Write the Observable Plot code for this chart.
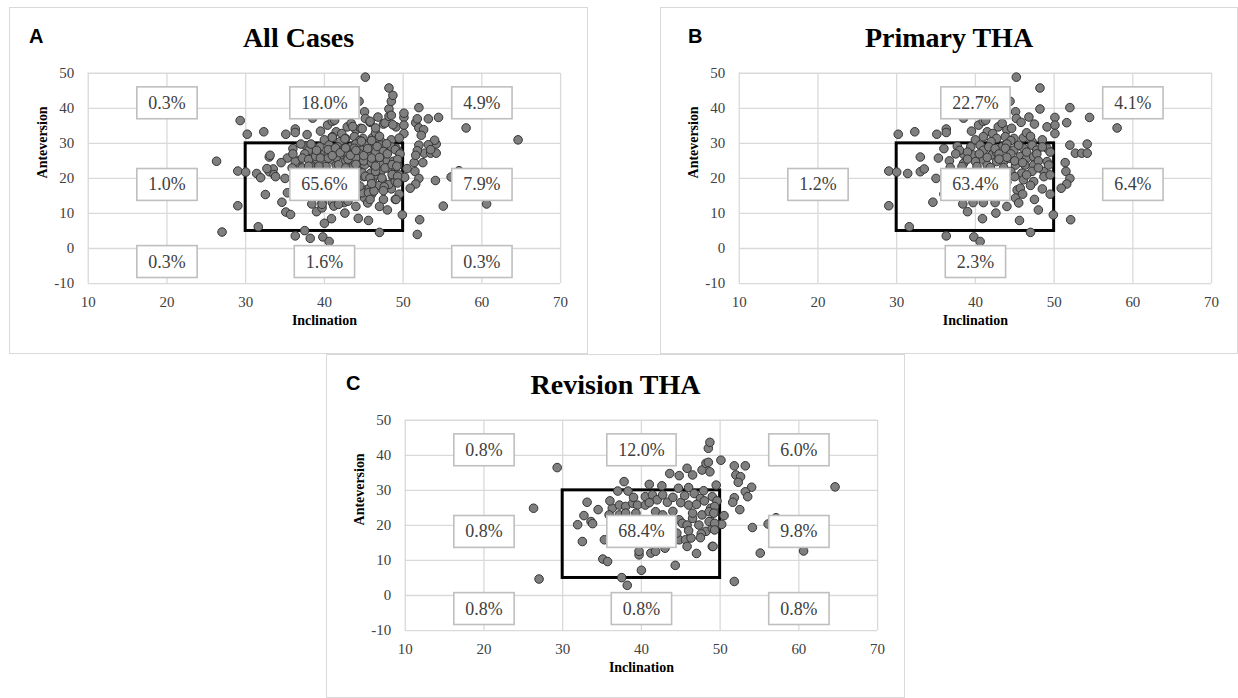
<!DOCTYPE html>
<html><head><meta charset="utf-8">
<script src="https://cdn.jsdelivr.net/npm/d3@7"></script>
<script src="https://cdn.jsdelivr.net/npm/@observablehq/plot@0.6"></script>
<style>
body{margin:0;background:#fff;width:1238px;height:698px;position:relative;overflow:hidden;font-family:"Liberation Serif","Times New Roman",serif}
.panel{position:absolute;border:1px solid #d9d9d9;box-sizing:border-box;background:#fff;overflow:hidden}
.panel svg{position:absolute;left:-1px;top:-1px}
.letter{position:absolute;top:18px;font-family:"Liberation Sans",Arial,sans-serif;font-weight:bold;font-size:20px;line-height:20px;color:#000}
.title{position:absolute;left:0;right:0;top:16px;text-align:center;font-weight:bold;font-size:28px;line-height:28px;color:#000}
</style></head><body>
<script>
// Primary THA cases: [inclination, anteversion]
const primaryPoints = [
 [30.2,32.6],[32.3,33.3],[35.1,32.6],[36.3,34.1],[36.3,33.1],[38.5,37.2],[40.4,35.2],[41.0,36.3],[41.5,33.3],[42.2,32.8],
 [42.9,34.7],[43.4,35.7],[44.0,33.8],[43.8,31.9],[41.0,31.9],[42.7,31.4],[41.3,36.6],[45.2,48.9],[48.2,45.8],[44.4,42.0],
 [45.1,39.0],[45.2,37.1],[48.2,39.8],[49.1,34.7],[47.5,35.5],[44.6,34.3],[44.9,31.4],[46.1,31.6],[47.2,30.5],[46.5,33.0],
 [45.8,36.0],[43.0,38.5],[47.0,32.0],[48.5,31.0],[44.5,30.8],[46.8,37.5],[42.0,30.5],[40.0,31.0],[39.5,33.5],
 [52.0,40.2],[54.5,37.4],[58.0,34.4],[50.1,37.4],[51.6,35.9],[50.1,35.2],[50.1,32.8],
 [29.0,22.1],[29.0,12.2],
 [30.0,21.8],[31.4,21.4],[33.0,21.9],[33.5,22.7],[33.0,26.1],[35.3,25.8],[36.7,25.0],[37.7,29.2],[38.5,26.9],[39.4,29.0],
 [39.7,26.7],[40.6,29.5],[41.0,28.0],[41.7,29.0],[41.0,25.3],[42.1,26.7],[42.7,27.4],[43.4,29.0],[44.0,29.8],[38.5,24.3],
 [40.0,24.8],[41.5,23.8],[42.7,24.8],[43.6,24.8],
 [43.8,28.6],[44.9,28.1],[46.1,28.6],[47.2,29.5],[47.8,28.1],[49.1,28.6],[44.4,25.7],[45.7,26.2],[46.5,25.7],[47.4,26.2],
 [45.1,23.8],[46.3,23.8],[47.4,23.8],[49.1,24.8],[45.9,21.5],[47.2,22.0],[48.7,22.0],[49.3,23.8],[46.1,19.6],[47.4,19.1],
 [48.7,20.5],[45.3,16.7],[45.7,17.2],[45.1,14.4],[45.5,13.0],[49.5,15.5],[49.9,9.6],[45.6,8.0],
 [34.6,13.2],[31.6,6.2],[38.4,12.7],[39.7,13.1],[41.0,13.1],[42.5,13.1],[40.9,8.5],[42.6,10.1],[36.8,23.1],[38.3,23.4],
 [40.2,23.4],[41.9,23.1],[43.6,23.1],
 [38.0,28.0],[39.0,27.5],[40.5,27.0],[41.5,26.0],[42.5,28.5],[43.0,27.0],[44.5,27.0],[45.5,29.5],[46.5,27.5],[47.8,27.0],
 [48.5,29.0],[49.5,27.5],[44.0,26.0],[45.0,25.0],[48.0,25.0],[46.0,24.5],[43.0,25.5],[39.0,25.5],[37.5,27.0],[36.0,28.5],
 [44.5,22.0],[43.5,21.0],[46.5,21.0],[48.0,23.0],[49.5,21.0],[47.0,18.0],[48.5,17.0],[44.0,19.0],[42.5,20.0],[41.0,21.5],
 [39.5,20.5],[38.0,19.5],[37.0,17.0],[40.0,16.0],[42.0,17.5],[43.5,16.0],[46.0,15.5],[47.5,14.0],[44.0,12.0],[39.0,10.5],
 [36.0,15.5],[35.0,20.0],[48.0,11.0],[45.0,20.5],
 [36.3,3.6],[39.8,3.3],[40.6,2.0],[47.0,4.6],
 [52.0,29.5],[54.2,29.8],[52.7,27.2],[53.5,27.2],[54.2,27.2],[51.4,24.5],[51.5,22.0],[52.0,20.0],[51.6,18.4],[50.9,17.2],[52.1,8.2]
];
// Revision THA cases: [inclination, anteversion]
const revisionPoints = [
 [29.3,36.5],[26.3,24.9],[27.0,4.7],[38.2,2.9],[51.8,4.0],
 [37.8,32.5],[43.6,34.8],[44.8,34.2],[45.8,36.3],[46.5,34.4],[47.7,35.8],[48.7,35.3],[48.2,37.7],[48.5,42.0],[48.7,43.7],
 [41.0,31.7],[42.6,31.3],[44.7,30.6],[48.5,38.0],[46.0,30.8],[49.5,31.5],
 [50.1,38.6],[51.8,37.0],[53.2,37.0],[52.0,34.4],[52.6,33.9],[52.3,32.3],[54.0,30.9],[64.6,31.0],
 [53.2,29.6],[53.5,28.2],[51.8,27.9],[51.6,26.6],[50.5,22.8],[50.2,20.3],[54.1,19.4],[56.1,20.4],[57.1,22.2],[60.6,12.7],
 [55.1,12.1],[60.5,17.5],[52.5,24.5],
 [37.5,5.1],[40.0,7.2],[44.3,8.6],[35.1,10.4],[35.7,9.7],[32.5,15.4],[31.9,20.2],[32.7,22.8],[33.6,21.1],[33.8,20.5],
 [33.1,26.6],[37.0,29.8],[38.3,29.8],
 [36.3,24.9],[37.2,25.8],[38.0,25.4],[38.9,26.3],[39.5,25.8],[40.5,25.8],[40.5,28.2],[41.4,28.7],[42.0,27.3],[42.7,28.7],
 [43.3,26.6],[41.8,23.9],[42.7,23.0],[35.9,23.0],[37.2,23.0],[38.0,23.5],[39.3,23.5],[36.5,21.1],[44.8,21.6],[45.2,20.6],
 [45.8,20.1],[46.5,22.0],[47.3,20.1],[48.2,18.3],[49.0,19.2],[46.0,25.8],[46.5,23.5],[47.7,23.0],[48.8,24.9],[48.8,21.1],
 [46.7,29.1],[47.5,27.7],[49.0,28.2],[44.8,15.9],[45.6,15.9],[46.3,16.4],[45.8,14.0],[49.0,14.0],[41.2,12.1],[41.8,12.6],
 [39.7,11.6],[39.7,12.6],[35.3,15.9],
 [47.9,29.9],[49.6,27.0],[49.3,25.4],[48.6,23.9],[49.2,23.5],[48.6,21.1],[49.3,20.6],[47.6,17.6],[49.3,18.7],[49.1,14.0],
 [36.5,19.0],[38.0,17.5],[39.5,19.5],[41.0,18.0],[42.5,16.5],[43.5,19.5],[37.5,15.0],[40.5,15.5],[42.0,21.0],[39.0,21.5],
 [44.0,24.0],[45.0,26.5],[44.0,28.0],[45.5,28.5],[47.0,26.0],[48.0,27.0],[46.0,18.5],[47.5,16.5],[44.5,17.8],[43.0,13.5],
 [36.0,27.0],[34.5,24.5],[39.0,28.0],[41.0,26.5],[47.0,12.0]
];
const allPoints = primaryPoints.concat(revisionPoints);

// safe zone (Lewinnek)
const safeInclination = [30, 50];
const safeAnteversion = [5, 30];

// axis ticks
const xTicks = [10, 20, 30, 40, 50, 60, 70];
const yTicks = [-10, 0, 10, 20, 30, 40, 50];

// zone percentage labels (row-major: top, middle, bottom rows; left, centre, right columns)
const zoneInclination = [20, 40, 60];
const zoneAnteversion = [41.5, 18.2, -3.8];
const labelsAll = ["0.3%","18.0%","4.9%","1.0%","65.6%","7.9%","0.3%","1.6%","0.3%"];
const labelsPrimary = ["","22.7%","4.1%","1.2%","63.4%","6.4%","","2.3%",""];
const labelsRevision = ["0.8%","12.0%","6.0%","0.8%","68.4%","9.8%","0.8%","0.8%","0.8%"];

const panels = [
  {key:"A", title:"All Cases", left:9, top:7, w:579, h:347, letterLeft:19, points:allPoints, labels:labelsAll},
  {key:"B", title:"Primary THA", left:660, top:7, w:578, h:347, letterLeft:27, points:primaryPoints, labels:labelsPrimary},
  {key:"C", title:"Revision THA", left:326, top:354, w:579, h:344, letterLeft:19, points:revisionPoints, labels:labelsRevision}
];

for (const p of panels) {
  const div = document.createElement("div");
  div.className = "panel";
  Object.assign(div.style, {left:p.left+"px", top:p.top+"px", width:p.w+"px", height:p.h+"px"});
  document.body.appendChild(div);

  const labelData = p.labels.map((t, i) => ({t, x: zoneInclination[i % 3], y: zoneAnteversion[Math.floor(i / 3)]}))
    .filter(d => d.t !== "");

  const svg = Plot.plot({
    width: p.w, height: 347,
    marginLeft: 79, marginTop: 66, marginRight: p.w - 79 - 474, marginBottom: 70,
    style: {fontFamily: '"Liberation Serif","Times New Roman",serif', fontSize: "15px", color: "#404040", background: "transparent"},
    x: {domain: [10, 70], label: null},
    y: {domain: [-10, 50], label: null},
    marks: [
      Plot.gridX(xTicks, {stroke: "#d9d9d9", strokeOpacity: 1, strokeWidth: 1.3}),
      Plot.gridY(yTicks, {stroke: "#d9d9d9", strokeOpacity: 1, strokeWidth: 1.3}),
      Plot.axisX(xTicks, {tickSize: 0, tickPadding: 13, tickFormat: d => `${d}`, fontSize: 15, fill: "#404040"}),
      Plot.axisY(yTicks, {tickSize: 0, tickPadding: 14, tickFormat: d => `${d}`, fontSize: 15, fill: "#404040"}),
      Plot.rect([0], {x1: () => safeInclination[0], x2: () => safeInclination[1], y1: () => safeAnteversion[0], y2: () => safeAnteversion[1], fill: "none", stroke: "#000", strokeWidth: 3}),
      Plot.dot(p.points, {x: d => d[0], y: d => d[1], r: 4.3, fill: "#7f7f7f", stroke: "#333", strokeWidth: 1}),
      Plot.text(labelData, {x: "x", y: "y", text: "t", fontSize: 18, fill: "#404040"}),
      Plot.text(["Inclination"], {frameAnchor: "bottom", text: d => d, dy: 42, fontWeight: "bold", fontSize: 14, fill: "#000"}),
      Plot.text(["Anteversion"], {frameAnchor: "left", text: d => d, dx: -46, rotate: -90, fontWeight: "bold", fontSize: 14, fill: "#000"})
    ]
  });
  div.appendChild(svg);

  svg.querySelectorAll("text").forEach(t => {
    if (!/%$/.test(t.textContent.trim())) return;
    const b = t.getBBox();
    const w = b.width + 23, h = 32;
    const r = document.createElementNS("http://www.w3.org/2000/svg", "rect");
    r.setAttribute("x", b.x + b.width / 2 - w / 2);
    r.setAttribute("y", b.y + b.height / 2 - h / 2);
    r.setAttribute("width", w);
    r.setAttribute("height", h);
    r.setAttribute("fill", "#fff");
    r.setAttribute("stroke", "#bfbfbf");
    r.setAttribute("stroke-width", "1.6");
    if (t.getAttribute("transform")) r.setAttribute("transform", t.getAttribute("transform"));
    t.parentNode.insertBefore(r, t);
  });

  const letter = document.createElement("div");
  letter.className = "letter";
  letter.style.left = p.letterLeft + "px";
  letter.textContent = p.key;
  div.appendChild(letter);

  const title = document.createElement("div");
  title.className = "title";
  title.textContent = p.title;
  div.appendChild(title);
}
</script>
</body></html>
